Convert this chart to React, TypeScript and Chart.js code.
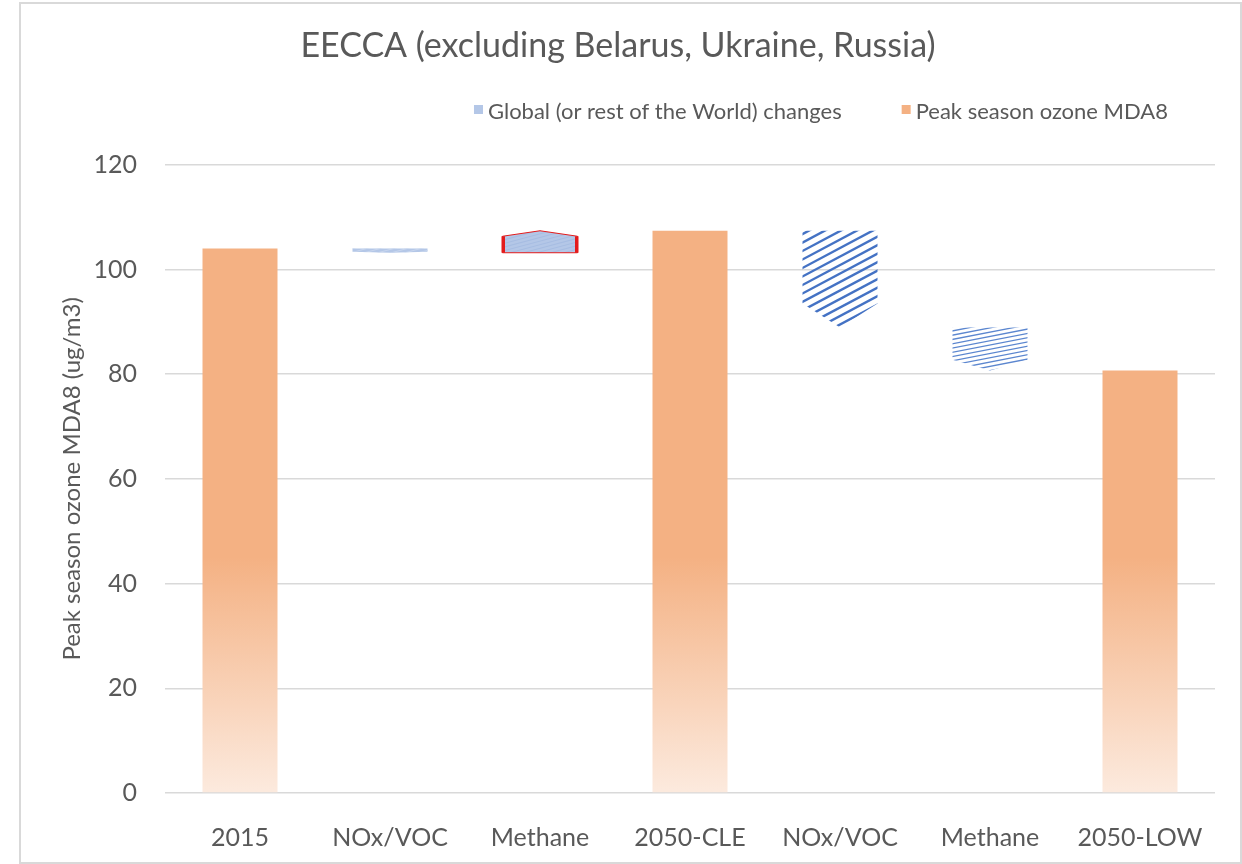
import React, { useEffect, useRef } from "react";
import { Chart, registerables } from "chart.js";

Chart.register(...registerables);

const categories = ["2015", "NOx/VOC", "Methane", "2050-CLE", "NOx/VOC", "Methane", "2050-LOW"];
const peakOzone: (number | null)[] = [104.0, null, null, 107.4, null, null, 80.7];
const changeStart: (number | null)[] = [null, 104.0, 103.2, null, 107.4, 88.9, null];
const changeEnd: (number | null)[] = [null, 103.2, 107.4, null, 88.9, 80.7, null];
const yTicks = [0, 20, 40, 60, 80, 100, 120];

const titleText = "EECCA (excluding Belarus, Ukraine, Russia)";
const yTitle = "Peak season ozone MDA8 (ug/m3)";
const legendChanges = "Global (or rest of the World) changes";
const legendOzone = "Peak season ozone MDA8";

const FONT = "Lato, 'Open Sans', sans-serif";
const TEXT = "#595959";
const ORANGE = "rgb(244,177,131)";
const ORANGE_LIGHT = "rgb(252,234,222)";

// per-bar styles for the change shapes
const changeStyles: Record<number, any> = {
  1: { fill: "#B4C7E7", stripe: "#C8D6EE", lw: 1, gap: 3.5, angle: 15 },
  2: { fill: "#B4C7E7", stripe: "#A7BDE2", lw: 1, gap: 3.5, angle: 15, red: true },
  4: { fill: null, stripe: "#4472C4", lw: 2.4, gap: 7.5, angle: 28 },
  5: { fill: null, stripe: "#5B86CF", lw: 1.3, gap: 4.2, angle: 11 },
};

const chevronPlugin = {
  id: "chevrons",
  afterDatasetsDraw(chart: any) {
    const meta = chart.getDatasetMeta(1);
    const ctx = chart.ctx;
    const ys = chart.scales.y;
    meta.data.forEach((el: any, i: number) => {
      const st = changeStyles[i];
      if (!st || changeStart[i] == null || changeEnd[i] == null) return;
      const { x, width } = el.getProps(["x", "width"], true);
      const base = ys.getPixelForValue(changeStart[i]);
      const y = ys.getPixelForValue(changeEnd[i]);
      const left = x - width / 2;
      const right = x + width / 2;
      const len = Math.abs(y - base);
      const dir = y > base ? 1 : -1;
      const depth = len * 0.25;
      const side = y - dir * depth;
      const path = () => {
        ctx.beginPath();
        ctx.moveTo(left, base);
        ctx.lineTo(right, base);
        ctx.lineTo(right, side);
        ctx.lineTo(x, y);
        ctx.lineTo(left, side);
        ctx.closePath();
      };
      ctx.save();
      path();
      if (st.fill) {
        ctx.fillStyle = st.fill;
        ctx.fill();
      }
      ctx.save();
      ctx.clip();
      const cy = (y + base) / 2;
      const R = Math.hypot(width, len) + 10;
      ctx.translate(x, cy);
      ctx.rotate((-st.angle * Math.PI) / 180);
      ctx.strokeStyle = st.stripe;
      ctx.lineWidth = st.lw;
      for (let k = -R; k <= R; k += st.gap) {
        ctx.beginPath();
        ctx.moveTo(-R, k);
        ctx.lineTo(R, k);
        ctx.stroke();
      }
      ctx.restore();
      if (st.red) {
        path();
        ctx.strokeStyle = "#E31B1B";
        ctx.lineWidth = 1;
        ctx.stroke();
        ctx.fillStyle = "#E31B1B";
        const top = Math.min(base, side);
        const h = Math.abs(base - side);
        ctx.fillRect(left - 1, top, 3.5, h);
        ctx.fillRect(right - 2.5, top, 3.5, h);
      }
      ctx.restore();
    });
  },
};

const legendPlugin = {
  id: "customLegend",
  afterDraw(chart: any) {
    const ctx = chart.ctx;
    ctx.save();
    ctx.font = `22px ${FONT}`;
    ctx.textBaseline = "middle";
    ctx.textAlign = "left";
    const items = [
      { text: legendChanges, color: "#B4C7E7" },
      { text: legendOzone, color: ORANGE },
    ];
    const rightEdge = 1147;
    const box = 9;
    const gapBox = 5;
    const gapItem = 60;
    let totalW = 0;
    const widths = items.map((it) => ctx.measureText(it.text).width);
    widths.forEach((w, i) => {
      totalW += box + gapBox + w + (i < items.length - 1 ? gapItem : 0);
    });
    let cx = rightEdge - totalW;
    const cy = 108;
    items.forEach((it, i) => {
      ctx.fillStyle = it.color;
      ctx.fillRect(cx, cy - 7, box, box);
      ctx.fillStyle = TEXT;
      ctx.fillText(it.text, cx + box + gapBox, cy);
      cx += box + gapBox + widths[i] + gapItem;
    });
    ctx.restore();
  },
};

export default function App() {
  const ref = useRef<HTMLCanvasElement>(null);
  useEffect(() => {
    if (!ref.current) return;
    const chart = new Chart(ref.current, {
      type: "bar",
      data: {
        labels: categories,
        datasets: [
          {
            label: legendOzone,
            data: peakOzone,
            backgroundColor: (c: any) => {
              const { chart } = c;
              const area = chart.chartArea;
              if (!area) return ORANGE;
              const ys = chart.scales.y;
              const g = chart.ctx.createLinearGradient(0, ys.getPixelForValue(45), 0, ys.getPixelForValue(0));
              g.addColorStop(0, ORANGE);
              g.addColorStop(1, ORANGE_LIGHT);
              return g;
            },
            borderWidth: 0,
            grouped: false,
            barPercentage: 0.5,
            categoryPercentage: 1,
          },
          {
            label: legendChanges,
            data: categories.map((_, i) =>
              changeStart[i] == null ? null : [changeStart[i] as number, changeEnd[i] as number]
            ) as any,
            backgroundColor: "rgba(0,0,0,0)",
            borderWidth: 0,
            grouped: false,
            barPercentage: 0.5,
            categoryPercentage: 1,
          },
        ],
      },
      options: {
        animation: false,
        responsive: false,
        layout: { padding: { left: 0, right: 25, top: 0, bottom: 0 } },
        plugins: {
          legend: { display: false },
          tooltip: { enabled: false },
          title: {
            display: true,
            text: titleText,
            color: TEXT,
            font: { family: FONT, size: 34, weight: "normal" },
            padding: { top: 22, bottom: 98 },
          },
        },
        scales: {
          x: {
            grid: { display: false },
            border: { display: false },
            ticks: { color: TEXT, font: { family: FONT, size: 25 }, padding: 22 },
            afterFit: (s: any) => {
              s.height = 69;
            },
          },
          y: {
            min: 0,
            max: 120,
            afterBuildTicks: (s: any) => {
              s.ticks = yTicks.map((v) => ({ value: v }));
            },
            grid: { color: "#D9D9D9", lineWidth: 1.5, drawTicks: false },
            border: { display: false },
            ticks: { color: TEXT, font: { family: FONT, size: 25 }, padding: 28 },
            title: {
              display: true,
              text: yTitle,
              color: TEXT,
              font: { family: FONT, size: 24 },
              padding: { top: 37, bottom: 0 },
            },
            afterFit: (s: any) => {
              s.width = 144;
            },
          },
        },
      },
      plugins: [chevronPlugin, legendPlugin],
    });
    return () => chart.destroy();
  }, []);
  return (
    <div
      style={{
        position: "absolute",
        left: 19,
        top: 2,
        width: 1223,
        height: 862,
        border: "2px solid #d9d9d9",
        boxSizing: "border-box",
        background: "#fff",
      }}
    >
      <canvas ref={ref} width={1219} height={858} style={{ display: "block" }} />
    </div>
  );
}
